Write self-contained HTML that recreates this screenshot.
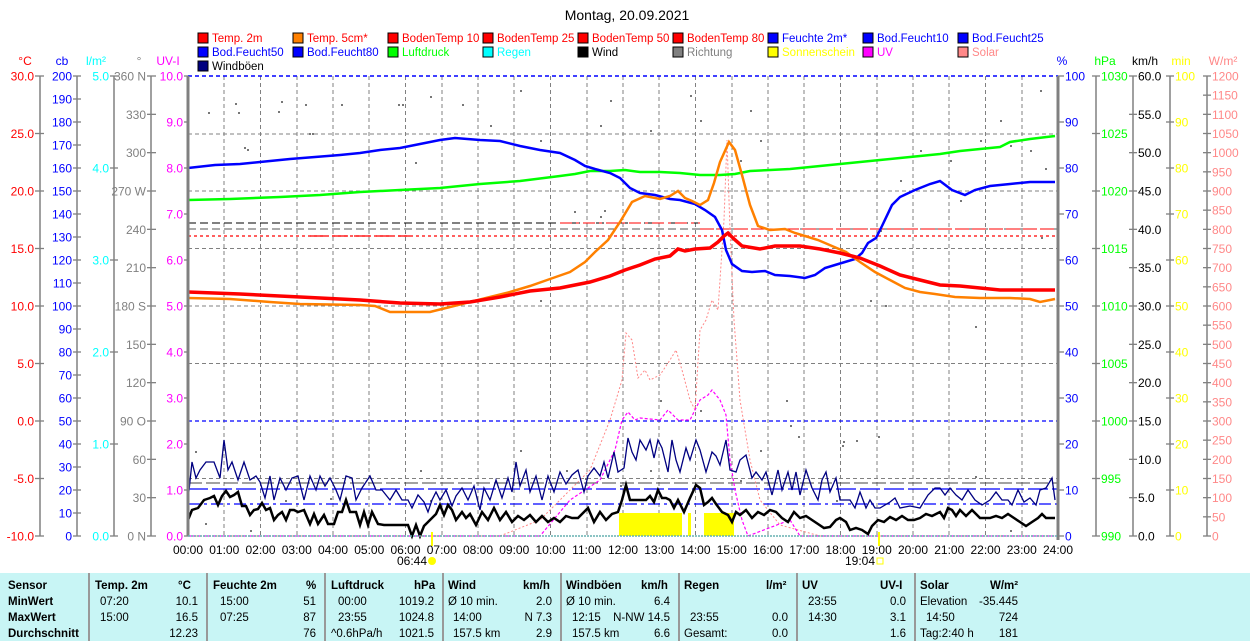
<!DOCTYPE html>
<html><head><meta charset="utf-8">
<style>
body{margin:0;background:#fff;width:1250px;height:641px;overflow:hidden;font-family:"Liberation Sans",sans-serif;}
svg text{font-family:"Liberation Sans",sans-serif;}
#tbl{position:absolute;left:0;top:573px;width:1250px;height:68px;background:#c8f5f5;font-size:11.5px;}
#tbl div{position:absolute;white-space:nowrap;}
.b{font-weight:bold;}
.sep{position:absolute;top:0;width:2px;height:68px;background:#999;}
</style></head><body>
<svg width="1250" height="573" style="position:absolute;left:0;top:0">
<text x="627" y="20" font-size="14" text-anchor="middle" fill="#000">Montag, 20.09.2021</text>
<!-- legend -->
<g font-size="11.5">
<rect x="198" y="33" width="10" height="10" fill="#f00" stroke="#000"/><text x="212" y="42" fill="#f00">Temp. 2m</text>
<rect x="293" y="33" width="10" height="10" fill="#ff8000" stroke="#000"/><text x="307" y="42" fill="#f00">Temp. 5cm*</text>
<rect x="388" y="33" width="10" height="10" fill="#f00" stroke="#000"/><text x="402" y="42" fill="#f00">BodenTemp 10</text>
<rect x="483" y="33" width="10" height="10" fill="#f00" stroke="#000"/><text x="497" y="42" fill="#f00">BodenTemp 25</text>
<rect x="578" y="33" width="10" height="10" fill="#f00" stroke="#000"/><text x="592" y="42" fill="#f00">BodenTemp 50</text>
<rect x="673" y="33" width="10" height="10" fill="#f00" stroke="#000"/><text x="687" y="42" fill="#f00">BodenTemp 80</text>
<rect x="768" y="33" width="10" height="10" fill="#00f" stroke="#000"/><text x="782" y="42" fill="#00f">Feuchte 2m*</text>
<rect x="863" y="33" width="10" height="10" fill="#00f" stroke="#000"/><text x="877" y="42" fill="#00f">Bod.Feucht10</text>
<rect x="958" y="33" width="10" height="10" fill="#00f" stroke="#000"/><text x="972" y="42" fill="#00f">Bod.Feucht25</text>
<rect x="198" y="47" width="10" height="10" fill="#00f" stroke="#000"/><text x="212" y="56" fill="#00f">Bod.Feucht50</text>
<rect x="293" y="47" width="10" height="10" fill="#00f" stroke="#000"/><text x="307" y="56" fill="#00f">Bod.Feucht80</text>
<rect x="388" y="47" width="10" height="10" fill="#0f0" stroke="#000"/><text x="402" y="56" fill="#0f0">Luftdruck</text>
<rect x="483" y="47" width="10" height="10" fill="#0ff" stroke="#000"/><text x="497" y="56" fill="#0ff">Regen</text>
<rect x="578" y="47" width="10" height="10" fill="#000" stroke="#000"/><text x="592" y="56" fill="#000">Wind</text>
<rect x="673" y="47" width="10" height="10" fill="#808080" stroke="#000"/><text x="687" y="56" fill="#808080">Richtung</text>
<rect x="768" y="47" width="10" height="10" fill="#ff0" stroke="#000"/><text x="782" y="56" fill="#ff0">Sonnenschein</text>
<rect x="863" y="47" width="10" height="10" fill="#f0f" stroke="#000"/><text x="877" y="56" fill="#f0f">UV</text>
<rect x="958" y="47" width="10" height="10" fill="#f88" stroke="#000"/><text x="972" y="56" fill="#f88">Solar</text>
<rect x="198" y="61" width="10" height="10" fill="#000080" stroke="#000"/><text x="212" y="70" fill="#000">Windböen</text>
</g>
<!-- units -->
<g font-size="12">
<text x="25" y="65" fill="#f00" text-anchor="middle">°C</text>
<text x="62" y="65" fill="#00f" text-anchor="middle">cb</text>
<text x="96" y="65" fill="#0ff" text-anchor="middle">l/m²</text>
<text x="139" y="65" fill="#808080" text-anchor="middle">°</text>
<text x="168" y="65" fill="#f0f" text-anchor="middle">UV-I</text>
<text x="1062" y="65" fill="#00f" text-anchor="middle">%</text>
<text x="1105" y="65" fill="#0f0" text-anchor="middle">hPa</text>
<text x="1145" y="65" fill="#000" text-anchor="middle">km/h</text>
<text x="1181" y="65" fill="#ff0" text-anchor="middle">min</text>
<text x="1223" y="65" fill="#f88" text-anchor="middle">W/m²</text>
</g>
<!-- axis lines -->
<g stroke="#808080" stroke-width="1.5">
<line x1="40" y1="76" x2="40" y2="536"/><line x1="77" y1="76" x2="77" y2="536"/>
<line x1="114" y1="76" x2="114" y2="536"/><line x1="151" y1="76" x2="151" y2="536"/>
<line x1="1096" y1="76" x2="1096" y2="536"/><line x1="1133" y1="76" x2="1133" y2="536"/>
<line x1="1170" y1="76" x2="1170" y2="536"/><line x1="1207" y1="76" x2="1207" y2="536"/>
</g>
<g id="ticks" font-size="12"></g>
<!-- grid -->
<g stroke="#808080" stroke-dasharray="4,3" stroke-width="1">
<line x1="224" y1="76" x2="224" y2="536"/><line x1="260.5" y1="76" x2="260.5" y2="536"/><line x1="297" y1="76" x2="297" y2="536"/><line x1="333" y1="76" x2="333" y2="536"/><line x1="369" y1="76" x2="369" y2="536"/><line x1="405.5" y1="76" x2="405.5" y2="536"/><line x1="442" y1="76" x2="442" y2="536"/><line x1="478" y1="76" x2="478" y2="536"/><line x1="514" y1="76" x2="514" y2="536"/><line x1="550.5" y1="76" x2="550.5" y2="536"/><line x1="587" y1="76" x2="587" y2="536"/><line x1="623" y1="76" x2="623" y2="536"/><line x1="659" y1="76" x2="659" y2="536"/><line x1="695.5" y1="76" x2="695.5" y2="536"/><line x1="732" y1="76" x2="732" y2="536"/><line x1="768" y1="76" x2="768" y2="536"/><line x1="804" y1="76" x2="804" y2="536"/><line x1="840.5" y1="76" x2="840.5" y2="536"/><line x1="877" y1="76" x2="877" y2="536"/><line x1="913" y1="76" x2="913" y2="536"/><line x1="949" y1="76" x2="949" y2="536"/><line x1="985.5" y1="76" x2="985.5" y2="536"/><line x1="1022" y1="76" x2="1022" y2="536"/>
<line x1="188" y1="134" x2="1058" y2="134"/><line x1="188" y1="191" x2="1058" y2="191"/><line x1="188" y1="248.5" x2="1058" y2="248.5"/><line x1="188" y1="306" x2="1058" y2="306"/><line x1="188" y1="363.5" x2="1058" y2="363.5"/><line x1="188" y1="478.5" x2="1058" y2="478.5"/>
</g>
<!-- reference lines -->
<line x1="188" y1="76" x2="1058" y2="76" stroke="#00f" stroke-dasharray="4,3" stroke-width="1.5"/>
<line x1="188" y1="421" x2="1058" y2="421" stroke="#00f" stroke-dasharray="4,3" stroke-width="1.2"/>
<line x1="188" y1="223" x2="700" y2="223" stroke="#000" stroke-dasharray="8,4" stroke-width="1"/>
<line x1="188" y1="229" x2="1058" y2="229" stroke="#555" stroke-dasharray="8,4" stroke-width="1"/>
<line x1="560" y1="223" x2="700" y2="223" stroke="#f00" stroke-dasharray="12,4,3,4" stroke-width="1"/>
<line x1="700" y1="229" x2="1058" y2="229" stroke="#f00" stroke-dasharray="14,3" stroke-width="1"/>
<line x1="188" y1="236" x2="1058" y2="236" stroke="#f00" stroke-dasharray="3,3" stroke-width="1.2"/>
<line x1="310" y1="236" x2="410" y2="236" stroke="#f00" stroke-dasharray="16,6" stroke-width="1.3"/>
<line x1="188" y1="483" x2="1058" y2="483" stroke="#444" stroke-dasharray="14,4" stroke-width="1"/>
<line x1="188" y1="489" x2="1058" y2="489" stroke="#00f" stroke-dasharray="20,4" stroke-width="1.2"/>
<line x1="188" y1="504" x2="1058" y2="504" stroke="#00f" stroke-dasharray="12,4,3,4" stroke-width="1.2"/>
<!-- sunshine -->
<g fill="#ff0"><rect x="619" y="513" width="63" height="23"/><rect x="688" y="513" width="3" height="23"/><rect x="704" y="513" width="30" height="23"/></g>
<!-- direction dots -->
<g fill="#777">
<rect x="208" y="112" width="2" height="2"/><rect x="235" y="103" width="2" height="2"/><rect x="238" y="112" width="2" height="2"/><rect x="244" y="147" width="2" height="2"/><rect x="247" y="149" width="2" height="2"/><rect x="278" y="111" width="2" height="2"/><rect x="281" y="101" width="2" height="2"/><rect x="305" y="104" width="2" height="2"/><rect x="309" y="133" width="2" height="2"/><rect x="312" y="133" width="2" height="2"/><rect x="341" y="104" width="2" height="2"/><rect x="398" y="104" width="2" height="2"/><rect x="402" y="104" width="2" height="2"/><rect x="415" y="162" width="2" height="2"/><rect x="430" y="96" width="2" height="2"/><rect x="462" y="104" width="2" height="2"/><rect x="490" y="125" width="2" height="2"/><rect x="520" y="90" width="2" height="2"/><rect x="540" y="140" width="2" height="2"/><rect x="600" y="125" width="2" height="2"/><rect x="610" y="100" width="2" height="2"/><rect x="650" y="130" width="2" height="2"/><rect x="690" y="95" width="2" height="2"/><rect x="700" y="120" width="2" height="2"/><rect x="600" y="216" width="2" height="2"/><rect x="604" y="210" width="2" height="2"/><rect x="574" y="211" width="2" height="2"/><rect x="740" y="160" width="2" height="2"/><rect x="750" y="110" width="2" height="2"/><rect x="760" y="140" width="2" height="2"/><rect x="836" y="500" width="2" height="2"/><rect x="843" y="441" width="2" height="2"/><rect x="798" y="436" width="2" height="2"/><rect x="786" y="400" width="2" height="2"/><rect x="790" y="425" width="2" height="2"/><rect x="760" y="450" width="2" height="2"/><rect x="740" y="480" width="2" height="2"/><rect x="660" y="400" width="2" height="2"/><rect x="650" y="470" width="2" height="2"/><rect x="700" y="410" width="2" height="2"/><rect x="620" y="485" width="2" height="2"/><rect x="585" y="478" width="2" height="2"/><rect x="566" y="470" width="2" height="2"/><rect x="190" y="511" width="2" height="2"/><rect x="195" y="451" width="2" height="2"/><rect x="205" y="523" width="2" height="2"/><rect x="250" y="530" width="2" height="2"/><rect x="285" y="500" width="2" height="2"/><rect x="330" y="498" width="2" height="2"/><rect x="420" y="470" width="2" height="2"/><rect x="430" y="500" width="2" height="2"/><rect x="520" y="450" width="2" height="2"/><rect x="900" y="180" width="2" height="2"/><rect x="920" y="150" width="2" height="2"/><rect x="950" y="160" width="2" height="2"/><rect x="960" y="200" width="2" height="2"/><rect x="980" y="140" width="2" height="2"/><rect x="1000" y="120" width="2" height="2"/><rect x="1010" y="145" width="2" height="2"/><rect x="1030" y="150" width="2" height="2"/><rect x="1040" y="90" width="2" height="2"/><rect x="1045" y="168" width="2" height="2"/><rect x="842" y="445" width="2" height="2"/><rect x="856" y="440" width="2" height="2"/><rect x="878" y="436" width="2" height="2"/><rect x="975" y="476" width="2" height="2"/><rect x="1010" y="530" width="2" height="2"/><rect x="870" y="300" width="2" height="2"/><rect x="885" y="305" width="2" height="2"/><rect x="975" y="326" width="2" height="2"/><rect x="1041" y="237" width="2" height="2"/><rect x="880" y="230" width="2" height="2"/><rect x="540" y="300" width="2" height="2"/>
</g>
<!-- solar -->
<polyline fill="none" stroke="#f88" stroke-width="1" stroke-dasharray="2,2" points="188,536 500,536 540,520 560,500 590,470 610,420 622,380 626,333 632,340 638,378 645,370 650,380 660,375 670,360 676,350 682,370 690,400 695,410 700,330 706,320 712,300 718,310 724,220 727,140 730,230 734,320 740,400 750,460 760,500 780,525 820,536 1058,536"/>
<!-- UV -->
<polyline fill="none" stroke="#f0f" stroke-width="1.2" stroke-dasharray="3,2" points="188,536 540,536 570,500 600,480 615,450 622,420 628,412 635,420 640,418 660,420 668,410 678,420 690,420 700,400 708,395 712,390 716,395 720,400 726,415 730,460 735,490 742,520 748,536 790,520 800,536 1058,536"/>
<!-- windboen -->
<polyline fill="none" stroke="#000080" stroke-width="1.3" points="188,500 192,462 196,478 200,470 206,462 214,462 220,478 224,440 228,470 232,462 238,480 244,462 250,480 256,476 260,482 265,498 270,476 274,500 280,478 286,490 292,478 298,476 304,500 310,476 316,490 320,476 325,486 330,478 336,490 340,500 346,476 352,478 356,500 362,488 370,476 376,490 382,490 390,500 396,490 402,500 408,500 412,508 418,495 424,502 428,512 432,500 436,492 440,500 446,490 452,506 456,496 462,488 468,500 474,486 480,510 484,488 490,500 496,480 502,498 508,478 512,492 516,462 520,486 526,470 530,492 536,476 542,500 548,476 554,492 560,472 566,484 572,475 578,470 584,492 588,476 594,468 600,476 604,462 608,478 614,452 618,472 624,468 628,438 632,452 636,460 640,440 646,450 650,440 654,458 658,440 662,448 668,472 672,440 676,460 680,472 686,448 690,460 696,440 700,450 706,472 712,452 716,456 720,465 726,440 730,470 736,472 740,460 746,455 752,478 756,472 762,480 766,472 772,495 778,470 782,490 788,472 792,490 796,472 800,495 806,470 812,488 818,500 822,480 826,472 830,492 836,478 840,500 846,500 850,500 855,508 860,492 866,508 870,500 875,508 880,508 890,502 895,498 900,508 910,506 920,508 928,495 935,488 940,488 945,495 950,488 956,495 962,500 968,490 975,500 982,505 990,500 996,492 1002,500 1008,500 1012,505 1018,490 1024,502 1030,498 1036,505 1040,490 1046,488 1052,478 1055,500"/>
<!-- wind -->
<polyline fill="none" stroke="#000" stroke-width="2.5" points="188,520 192,510 198,508 204,500 210,498 214,496 218,505 222,496 226,491 230,497 234,495 238,492 242,506 246,506 250,515 254,510 258,509 262,503 266,510 270,508 274,520 278,515 282,512 286,520 290,510 294,510 298,512 304,510 310,524 314,514 318,524 324,515 328,524 334,524 338,512 342,512 346,500 350,512 356,512 360,525 364,512 368,525 372,512 378,524 384,525 390,525 400,525 408,525 412,536 416,525 420,536 424,526 428,522 432,518 436,514 440,505 444,515 448,505 452,510 456,520 462,512 466,518 470,514 476,525 482,512 488,520 494,508 500,520 506,512 512,522 518,516 524,520 530,515 536,522 542,516 548,522 554,518 560,522 566,516 572,518 578,518 584,512 588,508 594,522 600,512 606,520 612,514 618,512 622,500 626,485 630,500 634,500 640,500 646,500 650,496 654,502 658,490 662,498 666,498 670,500 674,508 678,500 684,512 690,498 696,485 700,488 704,505 708,502 712,498 716,504 722,512 728,515 732,522 736,512 740,515 746,510 752,518 758,512 764,515 770,510 776,512 782,518 788,522 794,512 800,518 806,516 812,520 818,524 824,528 830,527 836,520 840,518 846,522 850,530 856,528 862,530 868,534 872,526 878,520 884,522 890,517 896,520 902,516 908,520 914,520 920,518 926,514 932,516 940,512 944,518 948,508 952,510 956,516 960,510 966,516 972,510 980,518 990,518 996,516 1002,518 1008,514 1014,518 1020,522 1026,526 1032,522 1038,518 1042,514 1046,518 1052,518 1055,518"/>
<!-- pressure -->
<polyline fill="none" stroke="#0f0" stroke-width="2.5" points="188,200 230,199 280,197 320,195 360,192 400,190 440,188 480,184 520,181 560,176 575,174 590,171 610,171 625,170 640,172 660,172 680,173 700,175 720,175 735,174 750,171 770,170 790,169 810,167 830,165 860,162 880,160 900,158 920,156 940,154 960,151 980,149 1000,147 1010,142 1030,139 1055,136"/>
<!-- humidity -->
<polyline fill="none" stroke="#00f" stroke-width="2.5" points="188,168 215,165 240,164 260,162 290,159 315,157 340,155 360,153 380,150 400,148 420,144 440,140 455,138 480,140 500,141 520,146 540,150 560,153 575,160 585,166 595,169 610,173 620,178 630,188 640,193 655,195 670,199 680,200 695,204 705,210 715,217 722,230 726,250 732,264 742,271 752,272 765,271 775,275 790,276 805,278 815,275 825,268 835,265 845,262 855,259 862,253 868,243 876,238 882,226 892,205 900,197 915,190 930,184 940,181 952,190 965,195 975,190 990,186 1010,184 1030,182 1055,182"/>
<!-- temp 5cm -->
<polyline fill="none" stroke="#ff8000" stroke-width="2.5" points="188,298 230,299 270,302 300,304 360,305 375,306 390,312 430,312 450,307 470,302 490,297 510,292 530,286 550,279 570,272 585,262 595,252 608,240 620,222 632,202 645,196 660,199 670,196 678,191 685,198 692,201 700,205 708,200 714,183 720,162 729,142 735,150 742,175 750,205 758,226 770,230 785,229 795,233 805,236 818,240 832,246 846,252 860,262 875,272 890,280 905,288 920,292 935,294 955,297 980,298 1010,298 1030,299 1040,302 1050,300 1055,299"/>
<!-- temp 2m -->
<polyline fill="none" stroke="#f00" stroke-width="3.5" points="188,292 240,294 300,297 360,300 400,303 440,304 470,302 500,297 530,291 560,288 590,282 610,276 625,270 640,265 655,259 670,256 678,249 685,251 695,249 710,248 718,242 724,236 728,233 734,239 742,246 760,249 775,246 800,246 820,249 840,253 860,258 880,266 900,275 920,280 940,285 960,286 980,288 1000,290 1040,290 1055,290"/>
<!-- plot frame -->
<line x1="188" y1="76" x2="188" y2="536" stroke="#808080" stroke-width="3"/>
<line x1="1058" y1="76" x2="1058" y2="540" stroke="#808080" stroke-width="3"/>
<line x1="188" y1="536" x2="1058" y2="536" stroke="#66b0b0" stroke-width="1.5" stroke-dasharray="2,1"/>
<!-- sunrise/sunset -->
<line x1="432" y1="532" x2="432" y2="546" stroke="#ff0" stroke-width="2"/>
<line x1="879" y1="532" x2="879" y2="546" stroke="#ff0" stroke-width="2"/>
<g font-size="12" fill="#000" text-anchor="middle" id="xl"></g>
<text x="412" y="565" font-size="12" text-anchor="middle">06:44</text>
<circle cx="432" cy="561" r="4" fill="#ff0"/>
<text x="860" y="565" font-size="12" text-anchor="middle">19:04</text>
<rect x="877" y="558" width="6" height="6" fill="none" stroke="#ff0"/>
</svg>
<div id="tbl">
<div class="sep" style="left:88px"></div><div class="sep" style="left:206px"></div><div class="sep" style="left:324px"></div><div class="sep" style="left:442px"></div><div class="sep" style="left:560px"></div><div class="sep" style="left:678px"></div><div class="sep" style="left:796px"></div><div class="sep" style="left:914px"></div>
<div class="b" style="left:8px;top:7px">Sensor</div><div class="b" style="left:8px;top:23px">MinWert</div><div class="b" style="left:8px;top:39px">MaxWert</div><div class="b" style="left:8px;top:55px">Durchschnitt</div>
<div class="b" style="left:95px;top:7px">Temp. 2m</div><div class="b" style="left:178px;top:7px">°C</div>
<div style="left:100px;top:23px">07:20</div><div style="right:1052px;top:23px">10.1</div>
<div style="left:100px;top:39px">15:00</div><div style="right:1052px;top:39px">16.5</div>
<div style="right:1052px;top:55px">12.23</div>
<div class="b" style="left:213px;top:7px">Feuchte 2m</div><div class="b" style="left:306px;top:7px">%</div>
<div style="left:220px;top:23px">15:00</div><div style="right:934px;top:23px">51</div>
<div style="left:220px;top:39px">07:25</div><div style="right:934px;top:39px">87</div>
<div style="right:934px;top:55px">76</div>
<div class="b" style="left:331px;top:7px">Luftdruck</div><div class="b" style="left:414px;top:7px">hPa</div>
<div style="left:338px;top:23px">00:00</div><div style="right:816px;top:23px">1019.2</div>
<div style="left:338px;top:39px">23:55</div><div style="right:816px;top:39px">1024.8</div>
<div style="left:331px;top:55px">^0.6hPa/h</div><div style="right:816px;top:55px">1021.5</div>
<div class="b" style="left:448px;top:7px">Wind</div><div class="b" style="left:523px;top:7px">km/h</div>
<div style="left:448px;top:23px">Ø 10 min.</div><div style="right:698px;top:23px">2.0</div>
<div style="left:453px;top:39px">14:00</div><div style="right:698px;top:39px">N 7.3</div>
<div style="left:453px;top:55px">157.5 km</div><div style="right:698px;top:55px">2.9</div>
<div class="b" style="left:566px;top:7px">Windböen</div><div class="b" style="left:641px;top:7px">km/h</div>
<div style="left:566px;top:23px">Ø 10 min.</div><div style="right:580px;top:23px">6.4</div>
<div style="left:572px;top:39px">12:15</div><div style="right:580px;top:39px">N-NW 14.5</div>
<div style="left:572px;top:55px">157.5 km</div><div style="right:580px;top:55px">6.6</div>
<div class="b" style="left:684px;top:7px">Regen</div><div class="b" style="left:766px;top:7px">l/m²</div>
<div style="left:690px;top:39px">23:55</div><div style="right:462px;top:39px">0.0</div>
<div style="left:684px;top:55px">Gesamt:</div><div style="right:462px;top:55px">0.0</div>
<div class="b" style="left:802px;top:7px">UV</div><div class="b" style="left:880px;top:7px">UV-I</div>
<div style="left:808px;top:23px">23:55</div><div style="right:344px;top:23px">0.0</div>
<div style="left:808px;top:39px">14:30</div><div style="right:344px;top:39px">3.1</div>
<div style="right:344px;top:55px">1.6</div>
<div class="b" style="left:920px;top:7px">Solar</div><div class="b" style="left:990px;top:7px">W/m²</div>
<div style="left:920px;top:23px">Elevation</div><div style="right:232px;top:23px">-35.445</div>
<div style="left:926px;top:39px">14:50</div><div style="right:232px;top:39px">724</div>
<div style="left:920px;top:55px">Tag:2:40 h</div><div style="right:232px;top:55px">181</div>
</div>
<script>
(function(){
var NS="http://www.w3.org/2000/svg",g=document.getElementById("ticks");
function T(x,y,s,c,a){var t=document.createElementNS(NS,"text");t.setAttribute("x",x);t.setAttribute("y",y);t.setAttribute("fill",c);t.setAttribute("text-anchor",a);t.textContent=s;g.appendChild(t);}
function L(x1,x2,y){var l=document.createElementNS(NS,"line");l.setAttribute("x1",x1);l.setAttribute("x2",x2);l.setAttribute("y1",y);l.setAttribute("y2",y);l.setAttribute("stroke","#808080");l.setAttribute("stroke-width","1.3");g.appendChild(l);}
function axis(n,lx,tx1,tx2,anchor,col,fn){for(var i=0;i<=n;i++){var y=76+460*i/n;L(tx1,tx2,y);T(lx,y+4.5,fn(i),col,anchor);}}
axis(8,34,35,44,"end","#f00",function(i){return (30-5*i).toFixed(1)});
axis(20,72,73,81,"end","#00f",function(i){return ""+(200-10*i)});
axis(5,109,110,118,"end","#0ff",function(i){return (5-i).toFixed(1)});
var dl={0:"N",3:"W",6:"S",9:"O",12:"N"};
axis(12,146,147,156,"end","#808080",function(i){var v=360-30*i;return v+(dl[i]!==undefined?" "+dl[i]:"")});
axis(10,183,184,188,"end","#f0f",function(i){return (10-i).toFixed(1)});
axis(10,1065,1058,1064,"start","#00f",function(i){return ""+(100-10*i)});
axis(8,1101,1092,1100,"start","#0f0",function(i){return ""+(1030-5*i)});
axis(12,1138,1129,1137,"start","#000",function(i){return (60-5*i).toFixed(1)});
axis(10,1175,1166,1174,"start","#ff0",function(i){return ""+(100-10*i)});
axis(24,1212,1203,1211,"start","#f88",function(i){return ""+(1200-50*i)});
var xl=document.getElementById("xl");
for(var h=0;h<=24;h++){var t=document.createElementNS(NS,"text");t.setAttribute("x",188+36.25*h);t.setAttribute("y",554);t.textContent=(h<10?"0":"")+h+":00";xl.appendChild(t);}
})();
</script>
</body></html>
